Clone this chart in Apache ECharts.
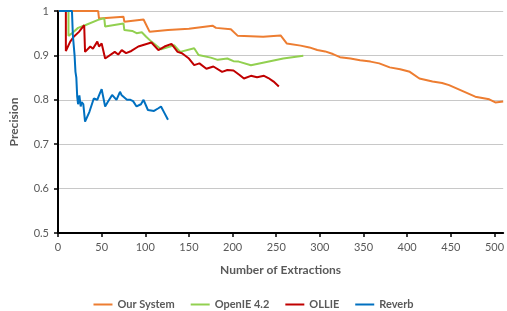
<!DOCTYPE html>
<html>
<head>
<meta charset="utf-8">
<script src="https://cdn.jsdelivr.net/npm/echarts@6/dist/echarts.min.js"></script>
<style>
  html, body { margin: 0; padding: 0; background: #fff; }
  #main { width: 507px; height: 311px; }
</style>
</head>
<body>
<div id="main"></div>
<script>
// series names as in the legend
var seriesNames = ['Our System', 'OpenIE 4.2', 'OLLIE', 'Reverb'];

// [extractions, precision] pairs
var ourSystem = [[1,1],[46,1],[47,0.983],[75,0.987],[76,0.976],[98,0.981],[105,0.953],[126,0.957],[128,0.955],[150,0.96],[177,0.967],[181,0.962],[198,0.959],[206,0.944],[235,0.942],[255,0.945],[262,0.927],[278,0.922],[288,0.918],[297,0.912],[306,0.909],[315,0.903],[323,0.896],[335,0.893],[346,0.889],[358,0.886],[368,0.882],[380,0.873],[392,0.869],[403,0.863],[414,0.848],[429,0.841],[440,0.838],[448,0.833],[463,0.820],[478,0.807],[494,0.801],[501,0.794],[510,0.796]];
var openIE = [[1,1],[12,1],[12,0.944],[16,0.95],[23,0.962],[31,0.968],[46,0.98],[53,0.984],[54,0.965],[75,0.972],[76,0.957],[85,0.955],[90,0.95],[96,0.952],[101,0.942],[107,0.931],[118,0.914],[133,0.923],[140,0.908],[156,0.916],[161,0.901],[175,0.895],[183,0.89],[194,0.893],[201,0.887],[207,0.886],[221,0.878],[258,0.893],[281,0.899]];
var ollie = [[1,1],[9,1],[9,0.91],[14,0.931],[18,0.942],[24,0.953],[30,0.968],[31,0.908],[37,0.92],[40,0.915],[45,0.931],[47,0.92],[50,0.927],[54,0.893],[65,0.908],[69,0.902],[73,0.912],[78,0.905],[84,0.91],[92,0.92],[107,0.929],[115,0.912],[122,0.92],[130,0.926],[137,0.908],[142,0.905],[150,0.893],[156,0.878],[162,0.882],[170,0.87],[178,0.875],[188,0.863],[194,0.867],[201,0.866],[208,0.856],[213,0.848],[221,0.854],[228,0.851],[236,0.854],[241,0.849],[247,0.841],[253,0.830]];
var reverb = [[1,1],[16,1],[17,0.946],[19,0.9],[20,0.863],[21,0.85],[22,0.807],[23,0.79],[24.5,0.81],[26,0.785],[27,0.795],[29,0.79],[31,0.751],[36,0.773],[41,0.803],[43,0.799],[45,0.80],[47,0.81],[50,0.824],[54,0.785],[57,0.795],[62,0.811],[67,0.80],[71,0.818],[73,0.81],[75,0.814],[79,0.80],[83,0.80],[86,0.797],[90,0.785],[95,0.79],[98,0.80],[103,0.777],[110,0.775],[115,0.781],[118,0.785],[122,0.77],[126,0.755]];

var colors = ['#ED7D31', '#92D050', '#C00000', '#0070C0'];
var seriesData = [ourSystem, openIE, ollie, reverb];

var myChart = echarts.init(document.getElementById('main'));

var option = {
    animation: false,
    color: colors,
    textStyle: { fontFamily: 'Lato' },
    grid: { left: 56, right: 2, top: 11, bottom: 78, containLabel: false },
    legend: {
        data: seriesNames,
        left: 'center',
        top: 294,
        icon: 'rect',
        itemWidth: 19,
        itemHeight: 2,
        itemGap: 16,
        textStyle: { color: '#595959', fontSize: 11, fontWeight: 'bold', fontFamily: 'Lato' }
    },
    xAxis: {
        type: 'value',
        min: 0,
        max: 510,
        interval: 50,
        name: 'Number of Extractions',
        nameLocation: 'middle',
        nameGap: 31,
        nameTextStyle: { color: '#595959', fontSize: 12, fontWeight: 'bold' },
        axisLine: { show: true, lineStyle: { color: '#000', width: 2 } },
        axisTick: { show: true, length: 4, lineStyle: { color: '#000', width: 1.5 } },
        axisLabel: { color: '#595959', fontSize: 11, margin: 9, showMaxLabel: false },
        splitLine: { show: false }
    },
    yAxis: {
        type: 'value',
        min: 0.5,
        max: 1,
        interval: 0.1,
        name: 'Precision',
        nameLocation: 'middle',
        nameGap: 38,
        nameTextStyle: { color: '#595959', fontSize: 12, fontWeight: 'bold' },
        axisLine: { show: true, lineStyle: { color: '#000', width: 2 } },
        axisTick: { show: true, length: 4, lineStyle: { color: '#000', width: 1.5 } },
        axisLabel: { color: '#595959', fontSize: 11, margin: 9 },
        splitLine: { show: true, lineStyle: { color: '#C8C8C8', width: 1 } }
    },
    series: seriesNames.map(function (name, i) {
        return {
            name: name,
            type: 'line',
            data: seriesData[i],
            showSymbol: false,
            symbol: 'none',
            lineStyle: { width: 2, color: colors[i] }
        };
    })
};

myChart.setOption(option);
</script>
</body>
</html>
